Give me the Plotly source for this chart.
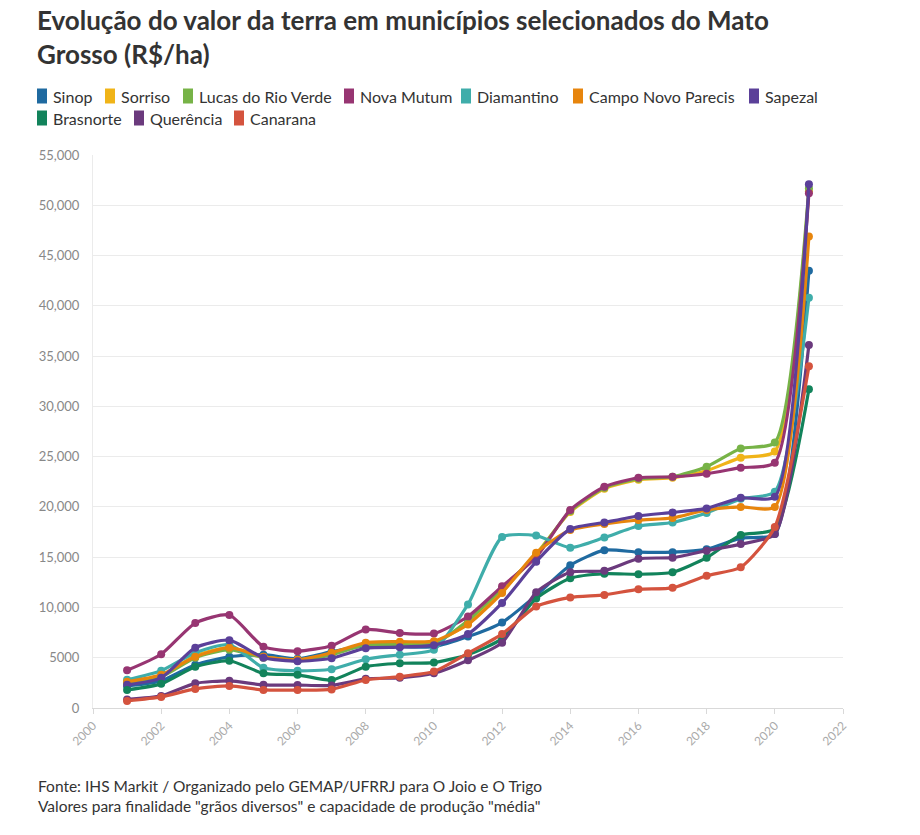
import plotly.graph_objects as go

years = list(range(2001, 2022))

sinop = [2200, 2700, 4300, 5100, 5300, 4900, 5600, 6200, 6100, 6100, 7100, 8500, 11200, 14200, 15700, 15500, 15500, 15800, 16900, 17300, 43500]
sorriso = [2600, 3200, 5200, 6000, 5100, 4800, 5400, 6400, 6400, 6500, 8400, 11600, 15300, 19500, 21800, 22700, 22900, 23600, 24900, 25500, 51400]
lucas = [2400, 3100, 5000, 5800, 5000, 4700, 5300, 6300, 6300, 6400, 8700, 11900, 15200, 19600, 21900, 22800, 23000, 24000, 25800, 26400, 51700]
nova_mutum = [3750, 5350, 8450, 9250, 6100, 5650, 6200, 7800, 7450, 7400, 9100, 12100, 15000, 19700, 22000, 22900, 23000, 23300, 23900, 24400, 51200]
diamantino = [2800, 3700, 5500, 6300, 4000, 3700, 3850, 4850, 5300, 5800, 10300, 17000, 17150, 15950, 16950, 18100, 18450, 19400, 20800, 21500, 40800]
campo_novo = [2600, 3300, 5100, 6000, 5100, 4800, 5500, 6500, 6600, 6650, 8300, 11450, 15450, 17700, 18300, 18700, 18900, 19700, 20000, 20000, 46900]
sapezal = [2300, 3000, 6000, 6750, 5000, 4650, 4950, 5950, 6050, 6250, 7350, 10450, 14550, 17800, 18450, 19100, 19450, 19850, 20900, 21000, 52100]
brasnorte = [1800, 2400, 4100, 4700, 3450, 3300, 2780, 4100, 4450, 4520, 5300, 6900, 10900, 12900, 13350, 13300, 13500, 14950, 17200, 17800, 31700]
querencia = [850, 1200, 2450, 2700, 2300, 2280, 2250, 2900, 3000, 3450, 4750, 6500, 11500, 13500, 13650, 14850, 14950, 15650, 16300, 17300, 36100]
canarana = [700, 1100, 1900, 2200, 1800, 1780, 1850, 2790, 3120, 3620, 5450, 7350, 10100, 11000, 11250, 11800, 11950, 13150, 14000, 18000, 34000]

names = ["Sinop", "Sorriso", "Lucas do Rio Verde", "Nova Mutum", "Diamantino",
         "Campo Novo Parecis", "Sapezal", "Brasnorte", "Querência", "Canarana"]
values = [sinop, sorriso, lucas, nova_mutum, diamantino, campo_novo, sapezal,
          brasnorte, querencia, canarana]
colors = ["#1f6aa0", "#f0b418", "#77b347", "#973572", "#3fadaa",
          "#e7850d", "#5b4099", "#12835b", "#6b3a7d", "#d4533e"]

y_ticks = list(range(0, 55001, 5000))
y_ticktext = ["0", "5000"] + [f"{v:,}" for v in y_ticks[2:]]
x_ticks = list(range(2000, 2023, 2))

title = "Evolução do valor da terra em municípios selecionados do Mato<br>Grosso (R$/ha)"
footer1 = "Fonte: IHS Markit / Organizado pelo GEMAP/UFRRJ para O Joio e O Trigo"
footer2 = 'Valores para finalidade "grãos diversos" e capacidade de produção "média"'

FONT = "Lato, 'Noto Sans', sans-serif"

# plot area in pixels
L, R, T, B = 93, 843, 155, 708


def px_x(x):
    return (x - L) / (R - L)


def px_y(y):
    return (B - y) / (B - T)


fig = go.Figure()
for name, vals, color in zip(names, values, colors):
    fig.add_trace(go.Scatter(
        x=years, y=vals, name=name, mode="lines+markers",
        line=dict(color=color, width=3.2, shape="spline", smoothing=0.6),
        marker=dict(color=color, size=8),
        showlegend=False,
    ))

annotations = []
shapes = []

# title
annotations.append(dict(
    text=f"<b>{title}</b>", xref="paper", yref="paper",
    x=px_x(35), y=px_y(2), xanchor="left", yanchor="top", align="left",
    showarrow=False, font=dict(family=FONT, size=26, color="#333333"),
))

# legend (manual, to match compact layout)
legend_rows = [
    (96, [0, 1, 2, 3, 4, 5, 6], [37, 105, 183, 344, 461, 573, 749]),
    (118, [7, 8, 9], [37, 134, 234]),
]
for row_y, idxs, xs in legend_rows:
    for i, bx in zip(idxs, xs):
        shapes.append(dict(
            type="rect", xref="paper", yref="paper",
            x0=px_x(bx), x1=px_x(bx + 10), y0=px_y(row_y + 7.5), y1=px_y(row_y - 7.5),
            fillcolor=colors[i], line=dict(width=0), layer="above",
        ))
        annotations.append(dict(
            text=names[i], xref="paper", yref="paper",
            x=px_x(bx + 14), y=px_y(row_y), xanchor="left", yanchor="middle",
            showarrow=False, font=dict(family=FONT, size=16, color="#333333"),
        ))

# footer
for txt, fy in [(footer1, 786), (footer2, 806)]:
    annotations.append(dict(
        text=txt, xref="paper", yref="paper",
        x=px_x(36), y=px_y(fy), xanchor="left", yanchor="middle",
        showarrow=False, font=dict(family=FONT, size=15.5, color="#333333"),
    ))

fig.update_layout(
    width=920, height=835,
    margin=dict(l=L, r=920 - R, t=T, b=835 - B),
    paper_bgcolor="white", plot_bgcolor="white",
    font=dict(family=FONT, color="#333333"),
    annotations=annotations, shapes=shapes,
    xaxis=dict(
        range=[2000, 2022], tickvals=x_ticks, tickangle=-45,
        showgrid=False, zeroline=False,
        showline=True, linecolor="#d9d9d9", linewidth=1,
        ticks="outside", ticklen=5, tickcolor="#d9d9d9",
        tickfont=dict(family=FONT, size=12, color="#aaaaaa"),
    ),
    yaxis=dict(
        range=[0, 55000], tickvals=y_ticks, ticktext=y_ticktext,
        showgrid=True, gridcolor="#ebebeb", gridwidth=1, zeroline=False,
        showline=True, linecolor="#ebebeb", linewidth=1,
        ticks="", ticklabelstandoff=10,
        tickfont=dict(family=FONT, size=13, color="#888888"),
    ),
)

fig.write_html("out.html")
